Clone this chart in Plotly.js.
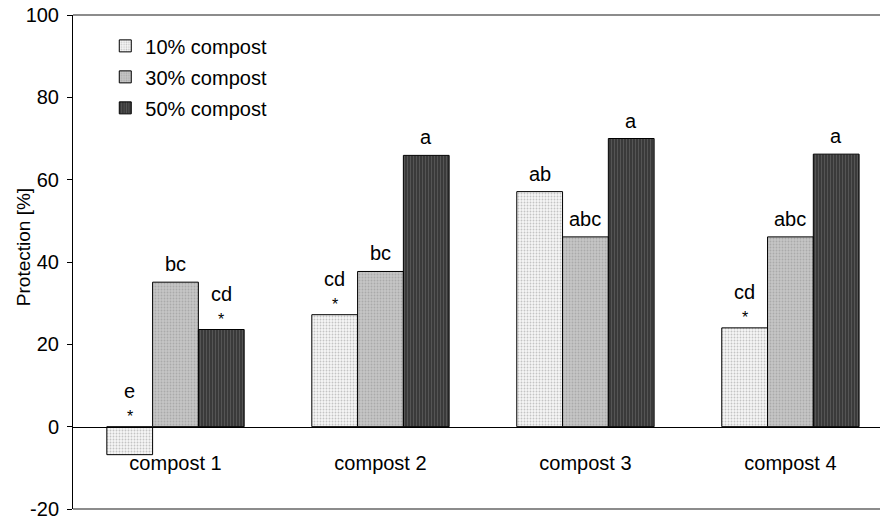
<!DOCTYPE html>
<html>
<head>
<meta charset="utf-8">
<script src="https://cdn.plot.ly/plotly-3.0.1.min.js"></script>
<style>html,body{margin:0;padding:0;background:#fff;}</style>
</head>
<body>
<div id="chart" style="width:880px;height:521px;"></div>
<script>
// ---- data ----
const categories = ["compost 1", "compost 2", "compost 3", "compost 4"];
const seriesNames = ["10% compost", "30% compost", "50% compost"];
const values10 = [-6.8, 27.2, 57.1, 24.0];
const values30 = [35.1, 37.7, 46.1, 46.1];
const values50 = [23.6, 65.9, 70.0, 66.2];
const letters10 = ["e", "cd", "ab", "cd"];
const letters30 = ["bc", "bc", "abc", "abc"];
const letters50 = ["cd", "a", "a", "a"];
const stars10 = [true, true, false, true];
const stars30 = [false, false, false, false];
const stars50 = [true, false, false, false];
const yTicks = [-20, 0, 20, 40, 60, 80, 100];

const FONT = "Liberation Sans, Arial, sans-serif";
const bargap = 0.33;
const series = [
  {name: seriesNames[0], v: values10, l: letters10, s: stars10,
   pattern: {shape: ".", bgcolor: "#f6f6f6", fgcolor: "#c4c4c4", size: 3, solidity: 0.3}},
  {name: seriesNames[1], v: values30, l: letters30, s: stars30,
   pattern: {shape: ".", bgcolor: "#c6c6c6", fgcolor: "#aaaaaa", size: 3, solidity: 0.3}},
  {name: seriesNames[2], v: values50, l: letters50, s: stars50,
   pattern: {shape: "|", bgcolor: "#3a3a3a", fgcolor: "#555555", size: 3, solidity: 0.35}}
];

const traces = series.map((s, j) => ({
  type: "bar",
  name: s.name,
  legendgroup: "g" + j,
  x: categories,
  y: s.v,
  marker: {color: s.pattern.bgcolor, pattern: s.pattern, line: {color: "#000", width: 1}},
  hoverinfo: "skip"
}));

const bw = (1 - bargap) / series.length;
const annotations = [];
series.forEach((s, j) => {
  const off = (j - (series.length - 1) / 2) * bw;
  categories.forEach((c, i) => {
    const base = Math.max(s.v[i], 0);
    annotations.push({
      x: i + off, y: base, xref: "x", yref: "y",
      text: s.l[i], showarrow: false, yanchor: "bottom",
      yshift: s.s[i] ? 23 : 5,
      font: {family: FONT, size: 20, color: "#000"}
    });
    if (s.s[i]) {
      annotations.push({
        x: i + off, y: base, xref: "x", yref: "y",
        text: "*", showarrow: false, yanchor: "bottom",
        yshift: 0,
        font: {family: FONT, size: 16, color: "#000"}
      });
    }
  });
});
// axis title as a rotated annotation (positioned like the reference)
annotations.push({
  xref: "paper", yref: "paper", x: -50 / 807, y: 0.53,
  xanchor: "center", yanchor: "middle", textangle: -90, showarrow: false,
  text: "Protection [%]", font: {family: FONT, size: 19, color: "#000"}
});

const layout = {
  width: 880, height: 521,
  margin: {l: 73, r: 0, t: 15, b: 12, pad: 0},
  paper_bgcolor: "#fff", plot_bgcolor: "#fff",
  barmode: "group", bargap: bargap, bargroupgap: 0,
  font: {family: FONT, size: 20, color: "#000"},
  showlegend: true,
  legend: {x: 0.04, y: 0.977, xanchor: "left", yanchor: "top",
           bgcolor: "rgba(0,0,0,0)", font: {family: FONT, size: 20},
           traceorder: "grouped", tracegroupgap: 2},
  xaxis: {type: "category", range: [-0.5, 3.437], anchor: "free", position: 20 / 120,
          showline: true, linecolor: "#000", linewidth: 1, ticks: "", showgrid: false,
          zeroline: false, tickfont: {family: FONT, size: 20}, ticklabelstandoff: 18},
  yaxis: {range: [-20, 100], tickvals: yTicks, ticktext: yTicks.map(String),
          showline: true, linecolor: "#000", linewidth: 1, ticks: "outside", ticklen: 5,
          tickcolor: "#000", showgrid: false, zeroline: false,
          tickfont: {family: FONT, size: 20}, ticklabelstandoff: 4},
  shapes: [
    {type: "line", xref: "paper", yref: "paper", x0: 0, x1: 1, y0: 1, y1: 1,
     line: {color: "#8c8c8c", width: 2}},
    {type: "line", xref: "paper", yref: "paper", x0: 0, x1: 1, y0: 0, y1: 0,
     line: {color: "#8c8c8c", width: 2}}
  ],
  annotations: annotations
};

Plotly.newPlot("chart", traces, layout, {displayModeBar: false, staticPlot: true});
</script>
</body>
</html>
